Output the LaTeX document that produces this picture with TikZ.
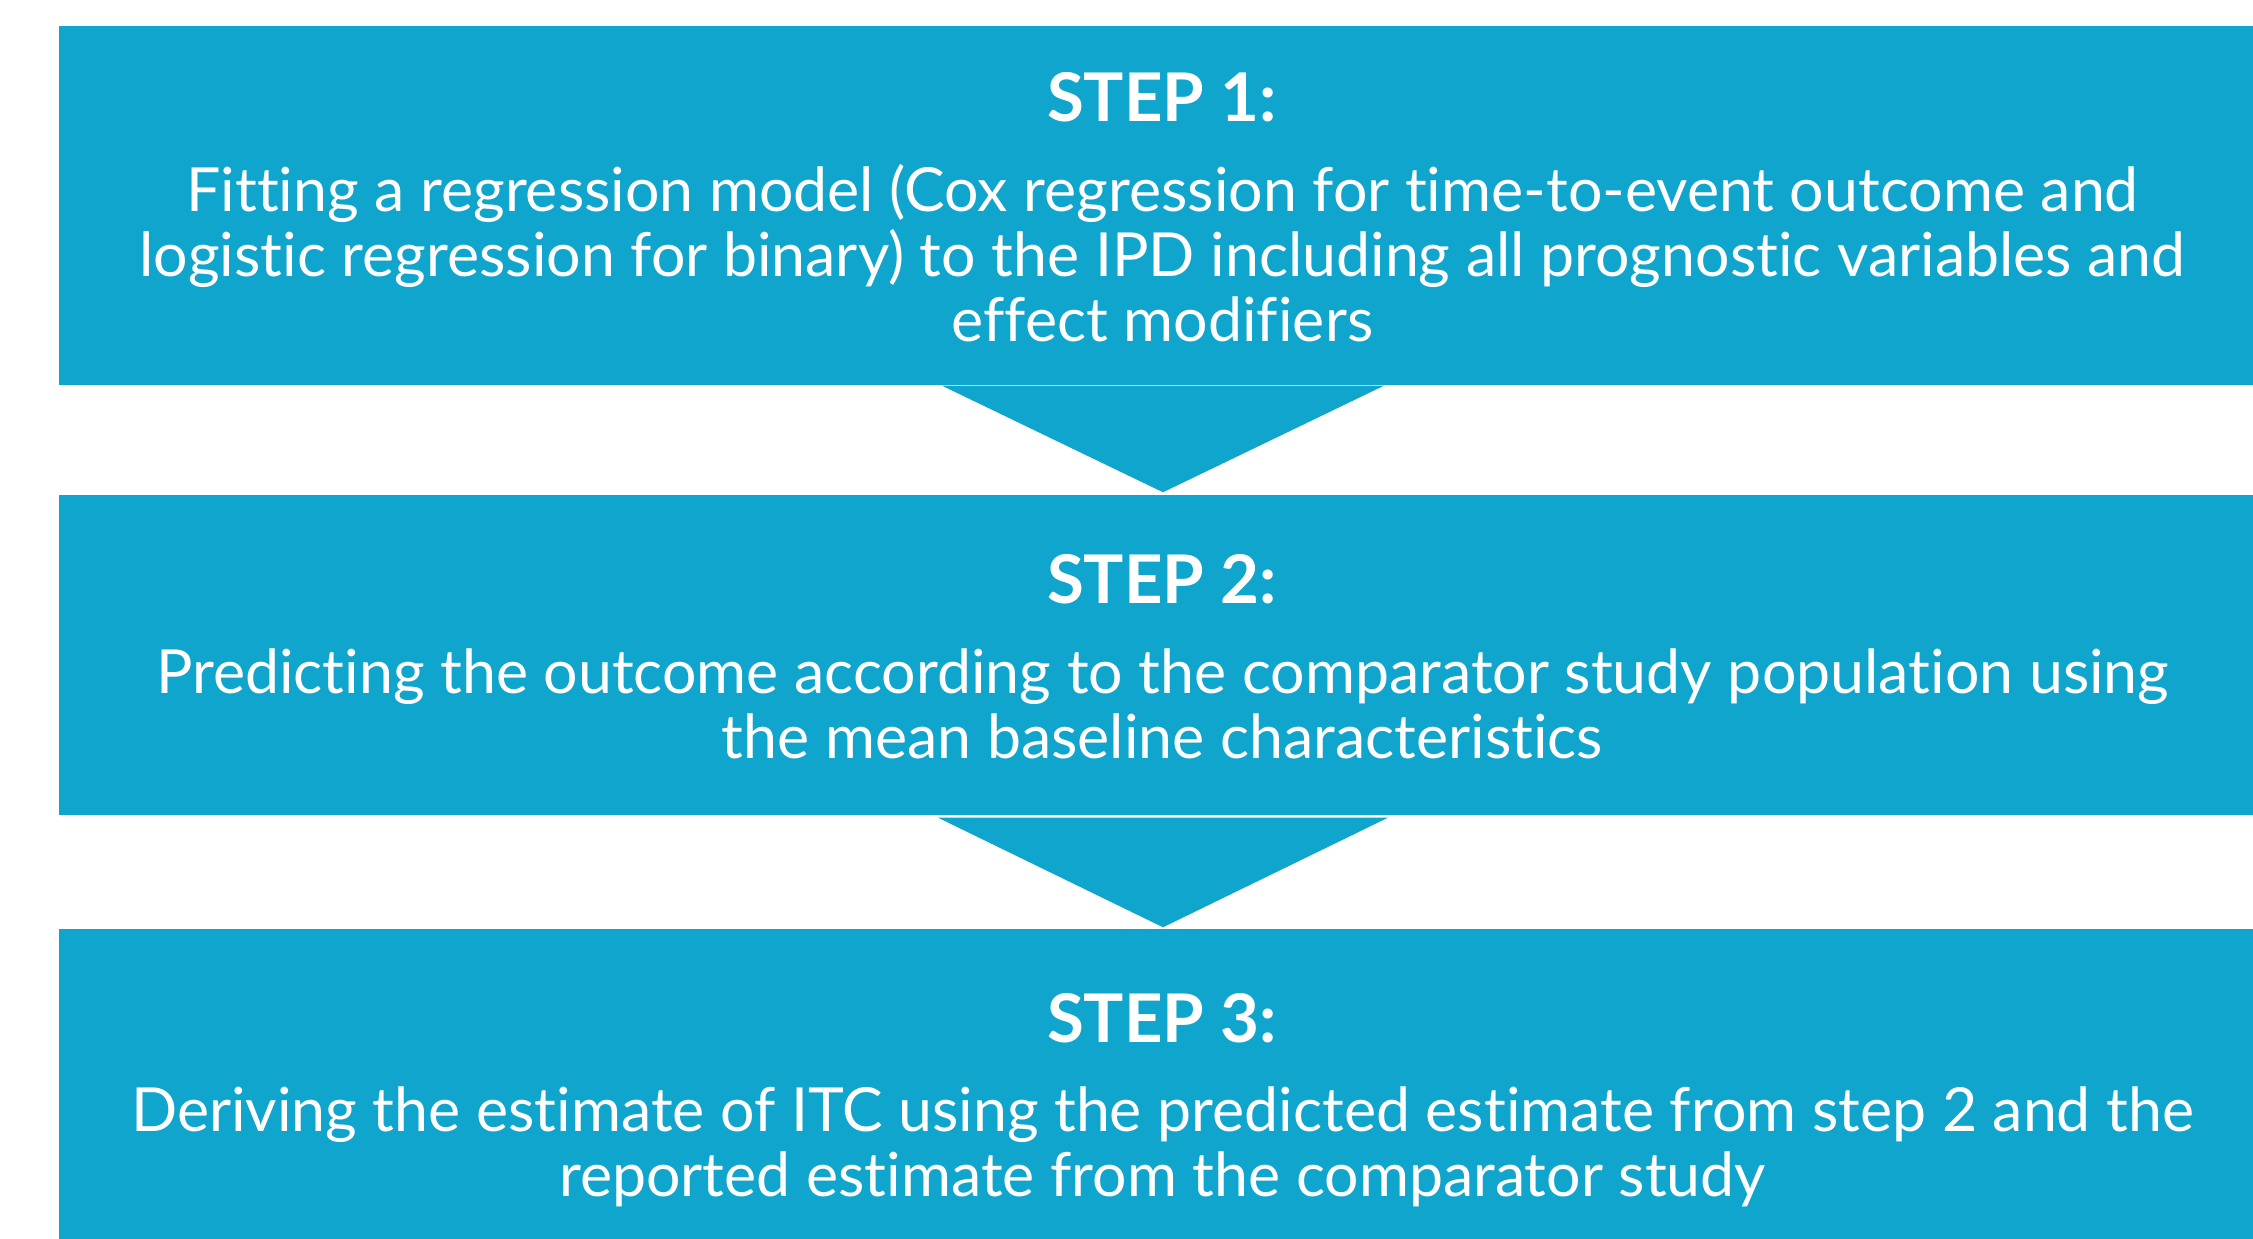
\documentclass[tikz,border=0pt]{standalone}
\usepackage{fontspec}
\setmainfont{Lato}[Ligatures=NoCommon]
\usetikzlibrary{calc}
\definecolor{stepblue}{RGB}{16,165,204}
\tikzset{
  stepbox/.style={fill=stepblue, draw=none, inner sep=0pt, minimum width=21.94cm},
  stephead/.style={text=white, anchor=base, font=\fontsize{19.1}{23}\selectfont\bfseries},
  steptext/.style={text=white, anchor=base, align=center, font=\fontsize{17.3}{18.5}\selectfont},
  steparrow/.style={fill=stepblue, draw=none}
}
\begin{document}
\begin{tikzpicture}[line join=round]
\useasboundingbox (0,0) rectangle (22.53,-12.39);
% the three boxes
\node[stepbox, minimum height=3.59cm] (step1) at (11.56,-2.055) {};
\node[stepbox, minimum height=3.20cm] (step2) at (11.56,-6.55) {};
\node[stepbox, minimum height=3.10cm] (step3) at (11.56,-10.84) {};
% arrow heads between the boxes
\fill[steparrow] ($(step1.south)+(-2.14,0)$) -- ($(step1.south)+(2.28,0)$) -- ($(step2.north)+(0.07,0.02)$) -- cycle;
\fill[steparrow] ($(step2.south)+(-2.18,-0.02)$) -- ($(step2.south)+(2.32,-0.02)$) -- ($(step3.north)+(0.07,0.01)$) -- cycle;
% texts, placed at the baseline of their last line
\node[stephead] (head1) at (11.62,-1.22) {STEP 1:};
\node[steptext] (text1) at (11.625,-3.42) {Fitting a regression model (Cox regression for time-to-event outcome and\\
logistic regression for binary) to the IPD including all prognostic variables and\\
effect modifiers};
\node[stephead] (head2) at (11.62,-6.035) {STEP 2:};
\node[steptext] (text2) at (11.625,-7.59) {Predicting the outcome according to the comparator study population using\\
the mean baseline characteristics};
\node[stephead] (head3) at (11.62,-10.43) {STEP 3:};
\node[steptext] (text3) at (11.625,-11.97) {Deriving the estimate of ITC using the predicted estimate from step 2 and the\\
reported estimate from the comparator study};
\end{tikzpicture}
\end{document}
